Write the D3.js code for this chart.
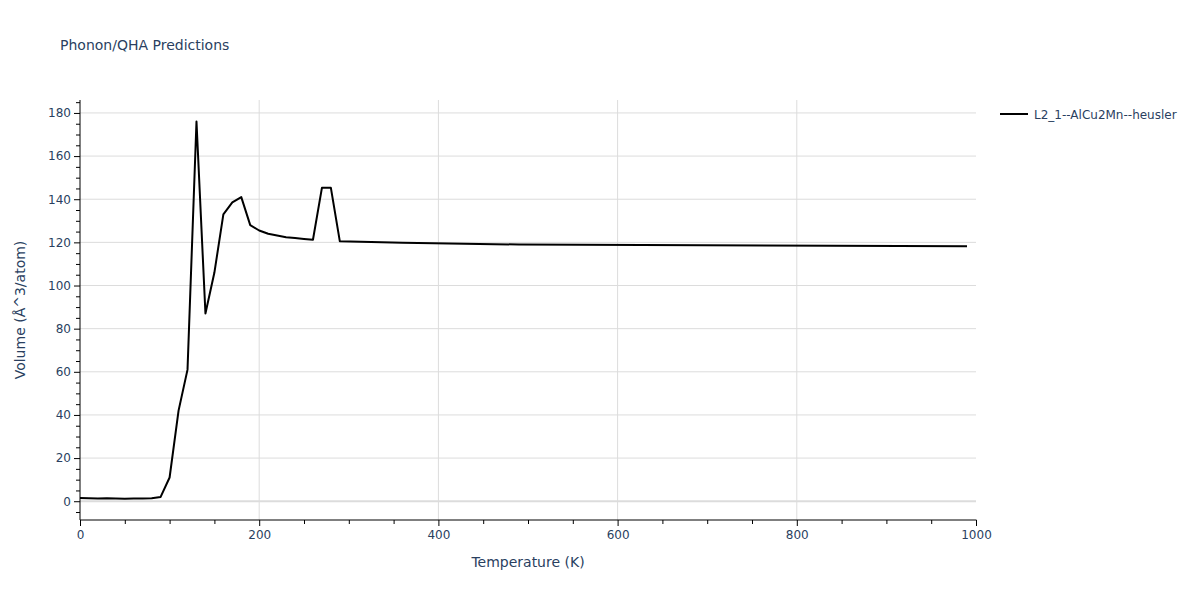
<!DOCTYPE html>
<html>
<head>
<meta charset="utf-8">
<script src="https://cdn.jsdelivr.net/npm/d3@7"></script>
<style>
  body { margin: 0; background: #fff; }
  svg { font-family: "DejaVu Sans", Verdana, sans-serif; }
</style>
</head>
<body>
<svg id="chart" width="1200" height="600"></svg>
<script>
const seriesName = "L2_1--AlCu2Mn--heusler";
const temperatures = [0,10,20,30,40,50,60,70,80,90,100,110,120,130,140,150,160,170,180,190,200,210,220,230,240,250,260,270,280,290,360,490,990];
const volumes = [1.5,1.4,1.3,1.4,1.3,1.1,1.3,1.3,1.4,2.0,11,42,61,176,87,106,133,138.5,141,128,125.5,124,123.2,122.4,122,121.6,121.2,145.3,145.3,120.5,119.8,119.0,118.2];
const xTicks = [0,200,400,600,800,1000];
const yTicks = [0,20,40,60,80,100,120,140,160,180];
const titleText = "Phonon/QHA Predictions";
const xTitle = "Temperature (K)";
const yTitle = "Volume (Å^3/atom)";

const svg = d3.select("#chart");
const mLeft = 80, mRight = 976, mTop = 100, mBottom = 520;
const textColor = "#2a3f5f";
const gridColor = "#dcdcdc";
const fontFam = '"DejaVu Sans", Verdana, sans-serif';

const x = d3.scaleLinear().domain([0, 1000]).range([mLeft, mRight]);
const y = d3.scaleLinear().domain([-8.7, 186]).range([mBottom, mTop]);

// grid
const g = svg.append("g");
g.selectAll("line.xg").data(xTicks.filter(d => d > 0 && d < 1000)).enter().append("line")
  .attr("x1", d => x(d)).attr("x2", d => x(d)).attr("y1", mTop).attr("y2", mBottom)
  .attr("stroke", gridColor).attr("stroke-width", 1);
g.selectAll("line.yg").data(yTicks).enter().append("line")
  .attr("x1", mLeft).attr("x2", mRight).attr("y1", d => y(d)).attr("y2", d => y(d))
  .attr("stroke", gridColor).attr("stroke-width", d => d === 0 ? 2 : 1);

// axes
const xAxis = d3.axisBottom(x).tickValues(xTicks).tickSize(6).tickPadding(4).tickFormat(d3.format("d"));
const xMinor = d3.axisBottom(x).tickValues(d3.range(0, 1001, 50).filter(d => !xTicks.includes(d))).tickSize(4).tickFormat("");
const yAxis = d3.axisLeft(y).tickValues(yTicks).tickSize(6).tickPadding(3).tickFormat(d3.format("d"));
const yMinor = d3.axisLeft(y).tickValues(d3.range(-5, 186, 5).filter(d => !yTicks.includes(d))).tickSize(4).tickFormat("");

function style(sel) {
  sel.select(".domain").remove();
  sel.selectAll("line").attr("stroke", "#000");
  sel.selectAll("text").attr("fill", textColor).style("font-size", "12px").style("font-family", fontFam);
}
svg.append("g").attr("transform", `translate(0,${mBottom})`).call(xAxis).call(style);
svg.append("g").attr("transform", `translate(0,${mBottom})`).call(xMinor).call(style);
svg.append("g").attr("transform", `translate(${mLeft},0)`).call(yAxis).call(style);
svg.append("g").attr("transform", `translate(${mLeft},0)`).call(yMinor).call(style);

svg.append("line").attr("x1", mLeft).attr("x2", mRight + 0.5).attr("y1", mBottom).attr("y2", mBottom).attr("stroke", "#000");
svg.append("line").attr("x1", mLeft).attr("x2", mLeft).attr("y1", mTop).attr("y2", mBottom).attr("stroke", "#000");

// line
const data = temperatures.map((t, i) => [t, volumes[i]]);
const line = d3.line().x(d => x(d[0])).y(d => y(d[1]));
svg.append("path").datum(data).attr("d", line)
  .attr("fill", "none").attr("stroke", "#000").attr("stroke-width", 2).attr("stroke-linejoin", "round");

// titles
svg.append("text").attr("x", 60).attr("y", 50).text(titleText)
  .attr("fill", textColor).style("font-size", "14px");
svg.append("text").attr("x", (mLeft + mRight) / 2).attr("y", 567).attr("text-anchor", "middle").text(xTitle)
  .attr("fill", textColor).style("font-size", "14px");
svg.append("text").attr("transform", `translate(25,${(mTop + mBottom) / 2}) rotate(-90)`).attr("text-anchor", "middle").text(yTitle)
  .attr("fill", textColor).style("font-size", "14px");

// legend
const lg = svg.append("g").attr("transform", "translate(1000,114)");
lg.append("line").attr("x1", 0).attr("x2", 28).attr("y1", 0).attr("y2", 0).attr("stroke", "#000").attr("stroke-width", 2);
lg.append("text").attr("x", 34).attr("y", 4.5).text(seriesName).attr("fill", textColor).style("font-size", "12px");
</script>
</body>
</html>
